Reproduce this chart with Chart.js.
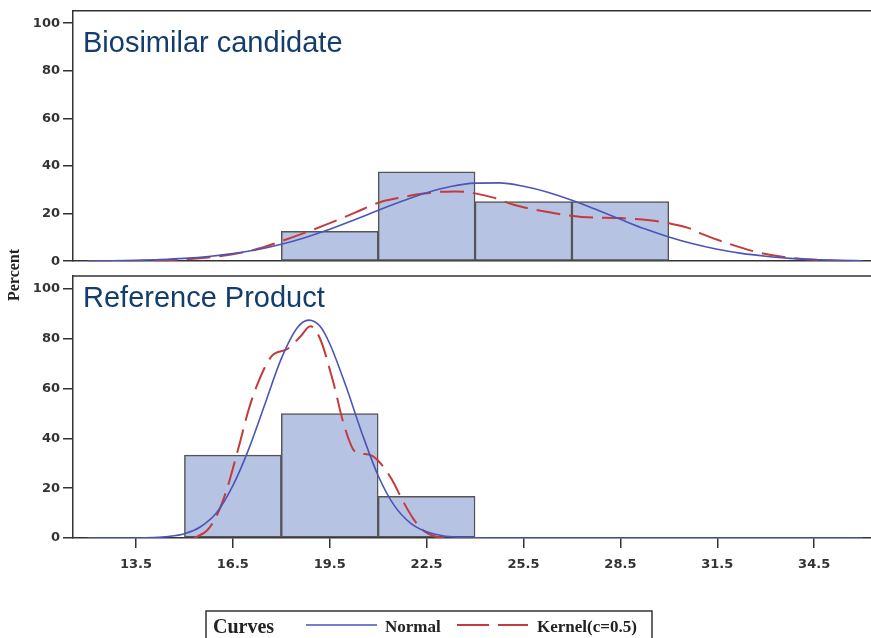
<!DOCTYPE html>
<html>
<head>
<meta charset="utf-8">
<script src="https://cdn.jsdelivr.net/npm/chart.js"></script>
<style>
  html, body { margin: 0; padding: 0; background: #fff; }
  #wrap { position: relative; width: 871px; height: 638px; overflow: hidden; }
  #topBox { position: absolute; left: 0; top: 0; }
  #botBox { position: absolute; left: 0; top: 240px; }
</style>
</head>
<body>
<div id="wrap">
  <div id="topBox"><canvas id="topChart" width="871" height="272"></canvas></div>
  <div id="botBox"><canvas id="botChart" width="871" height="398"></canvas></div>
</div>
<script>
// axes
const xTicks = [13.5, 16.5, 19.5, 22.5, 25.5, 28.5, 31.5, 34.5];
const yTicks = [0, 20, 40, 60, 80, 100];

// Biosimilar candidate - histogram (bin midpoints, percent)
const bioBinMid = [19.5, 22.5, 25.5, 28.5];
const bioPct = [12.5, 37.5, 25, 25];

// Biosimilar candidate - fitted normal curve
const bioNormX = [12, 12.75, 13.5, 14.25, 15, 15.75, 16.5, 17.25, 18, 18.75, 19.5, 20.25, 21, 21.75, 22.5, 23.25,
                  24, 24.75, 25.5, 26.25, 27, 27.75, 28.5, 29.25, 30, 30.75, 31.5, 32.25, 33, 33.75, 34.5, 35.25, 36];
const bioNormY = [0.1, 0.2, 0.4, 0.7, 1.2, 2.0, 3.2, 4.8, 7.1, 10.0, 13.4, 17.3, 21.4, 25.3, 28.8, 31.4,
                  32.8, 32.9, 31.5, 29.0, 25.6, 21.7, 17.6, 13.6, 10.2, 7.3, 5.0, 3.3, 2.1, 1.2, 0.7, 0.4, 0.2];

// Biosimilar candidate - kernel density
const bioKernX = [12, 13.5, 15, 16.5, 17.3, 18, 18.8, 19.6, 20.3, 21.1, 21.8, 22.4, 23.0, 23.4, 24.0, 24.6,
                  25.2, 26.2, 27.3, 28.5, 29.4, 30.0, 30.6, 31.0, 31.8, 32.8, 33.9, 35, 36];
const bioKernY = [0, 0.1, 0.8, 2.9, 5.3, 8.4, 12.3, 16.5, 20.5, 25, 27, 28.4, 29.2, 29.3, 28.5, 26.6,
                  23.7, 20.8, 18.6, 18.1, 17.2, 15.9, 14, 11.6, 7.6, 3.6, 1.2, 0.3, 0];

// Reference Product - histogram
const refBinMid = [16.5, 19.5, 22.5];
const refPct = [33.3, 50, 16.7];

// Reference Product - fitted normal curve
const refNormX = [12, 13, 14, 14.5, 15, 15.5, 16, 16.5, 17, 17.5, 18, 18.5, 18.85, 19.2, 19.5, 20, 20.5,
                  21, 21.5, 22, 22.5, 23, 23.5, 24, 25, 36];
const refNormY = [0, 0, 0.2, 0.6, 1.7, 4.5, 10.2, 21, 36, 54, 72, 84.5, 87.5, 85, 78, 61, 42,
                  25, 13, 6, 2.5, 0.9, 0.3, 0.1, 0, 0];

// Reference Product - kernel density
const refKernX = [15.3, 15.7, 16.0, 16.3, 16.65, 17.0, 17.3, 17.7, 18.2, 18.6, 18.9, 19.2, 19.6, 19.95,
                  20.3, 20.7, 21.0, 21.4, 21.8, 22.1, 22.4, 22.8, 23.2];
const refKernY = [0, 3, 9, 19, 35, 52, 63, 73, 76, 81, 85, 80, 63, 45,
                  34.5, 33.5, 31, 24, 14, 7.5, 3, 0.5, 0];

const BLUE = '#4A55B8';
const RED = '#C53A3A';
const BAR_FILL = '#B7C3E3';
const AXIS = '#333333';
const TICK_FONT = { family: '"DejaVu Sans", Verdana, sans-serif', weight: 'bold', size: 13 };

function pts(xs, ys) {
    return xs.map((x, i) => ({ x: x, y: ys[i] }));
}

// panel frame top line + panel label
const panelDecor = {
    id: 'panelDecor',
    afterDraw(chart, args, o) {
        const ctx = chart.ctx;
        const a = chart.chartArea;
        ctx.save();
        ctx.strokeStyle = AXIS;
        ctx.lineWidth = 1.5;
        ctx.beginPath();
        ctx.moveTo(a.left, a.top);
        ctx.lineTo(a.right, a.top);
        ctx.stroke();
        ctx.fillStyle = '#123D6C';
        ctx.font = '29px "Liberation Sans", Arial, sans-serif';
        ctx.textBaseline = 'alphabetic';
        ctx.fillText(o.label, a.left + 10, a.top + o.labelDy);
        ctx.restore();
    }
};

// "Percent" title and the curves legend, drawn on the lower canvas
const bottomExtras = {
    id: 'bottomExtras',
    afterDraw(chart) {
        const ctx = chart.ctx;
        const off = 240;
        ctx.save();
        ctx.fillStyle = '#222';
        ctx.font = 'bold 16px "Liberation Serif", "Times New Roman", serif';
        ctx.textAlign = 'center';
        ctx.textBaseline = 'middle';
        ctx.translate(15, 275 - off);
        ctx.rotate(-Math.PI / 2);
        ctx.fillText('Percent', 0, 0);
        ctx.restore();

        ctx.save();
        ctx.strokeStyle = AXIS;
        ctx.lineWidth = 1.5;
        ctx.strokeRect(206, 611 - off, 446, 40);
        ctx.fillStyle = '#222';
        ctx.textBaseline = 'alphabetic';
        ctx.font = 'bold 20px "Liberation Serif", "Times New Roman", serif';
        ctx.fillText('Curves', 213, 632.5 - off);
        ctx.font = 'bold 17px "Liberation Serif", "Times New Roman", serif';
        ctx.fillText('Normal', 385, 631.5 - off);
        ctx.fillText('Kernel(c=0.5)', 537, 631.5 - off);

        ctx.lineWidth = 1.5;
        ctx.strokeStyle = BLUE;
        ctx.beginPath();
        ctx.moveTo(306, 625 - off);
        ctx.lineTo(377, 625 - off);
        ctx.stroke();
        ctx.lineWidth = 2;
        ctx.strokeStyle = RED;
        ctx.setLineDash([32, 9]);
        ctx.beginPath();
        ctx.moveTo(457, 625 - off);
        ctx.lineTo(528, 625 - off);
        ctx.stroke();
        ctx.restore();
    }
};

function makePanel(canvasId, cfg) {
    const ctx = document.getElementById(canvasId).getContext('2d');
    return new Chart(ctx, {
        type: 'bar',
        data: {
            datasets: [
                {
                    type: 'line',
                    label: 'Normal',
                    data: pts(cfg.normX, cfg.normY),
                    borderColor: BLUE,
                    borderWidth: 1.6,
                    pointRadius: 0,
                    cubicInterpolationMode: 'monotone',
                    fill: false,
                    order: 0
                },
                {
                    type: 'line',
                    label: 'Kernel(c=0.5)',
                    data: pts(cfg.kernX, cfg.kernY),
                    borderColor: RED,
                    borderWidth: 2,
                    borderDash: [24, 9],
                    pointRadius: 0,
                    cubicInterpolationMode: 'monotone',
                    fill: false,
                    order: 1
                },
                {
                    type: 'bar',
                    label: 'Percent',
                    data: pts(cfg.binMid, cfg.pct),
                    backgroundColor: BAR_FILL,
                    borderColor: '#555',
                    borderWidth: 1.5,
                    borderSkipped: false,
                    barPercentage: 1,
                    categoryPercentage: 1,
                    order: 2
                }
            ]
        },
        options: {
            responsive: false,
            animation: false,
            devicePixelRatio: 1,
            layout: { padding: cfg.padding },
            scales: {
                x: {
                    type: 'linear',
                    min: 11.55,
                    max: 36.26,
                    offset: false,
                    afterBuildTicks: s => { s.ticks = xTicks.map(v => ({ value: v })); },
                    afterFit: s => { s.height = cfg.xHeight; },
                    border: { display: true, color: AXIS, width: 1.5 },
                    grid: { display: cfg.showX, offset: false, drawOnChartArea: false, drawTicks: true, tickLength: 10, color: AXIS, lineWidth: 1.5 },
                    ticks: { display: cfg.showX, color: AXIS, font: TICK_FONT, padding: 9, maxRotation: 0, autoSkip: false }
                },
                y: {
                    min: 0,
                    max: 105.2,
                    afterBuildTicks: s => { s.ticks = yTicks.map(v => ({ value: v })); },
                    afterFit: s => { s.width = 73; },
                    border: { display: true, color: AXIS, width: 1.5 },
                    grid: { display: true, drawOnChartArea: false, drawTicks: true, tickLength: 10, color: AXIS, lineWidth: 1.5 },
                    ticks: { color: AXIS, font: TICK_FONT, padding: 3 }
                }
            },
            plugins: {
                legend: { display: false },
                tooltip: { enabled: false },
                panelDecor: { label: cfg.label, labelDy: cfg.labelDy }
            }
        },
        plugins: cfg.extra ? [panelDecor, cfg.extra] : [panelDecor]
    });
}

makePanel('topChart', {
    label: 'Biosimilar candidate',
    labelDy: 41,
    binMid: bioBinMid, pct: bioPct,
    normX: bioNormX, normY: bioNormY,
    kernX: bioKernX, kernY: bioKernY,
    padding: { top: 7, bottom: 3, left: 0, right: 0 },
    xHeight: 0,
    showX: false
});

makePanel('botChart', {
    label: 'Reference Product',
    labelDy: 31,
    binMid: refBinMid, pct: refPct,
    normX: refNormX, normY: refNormY,
    kernX: refKernX, kernY: refKernY,
    padding: { top: 36, bottom: 55, left: 0, right: 0 },
    xHeight: 45,
    showX: true,
    extra: bottomExtras
});
</script>
</body>
</html>
